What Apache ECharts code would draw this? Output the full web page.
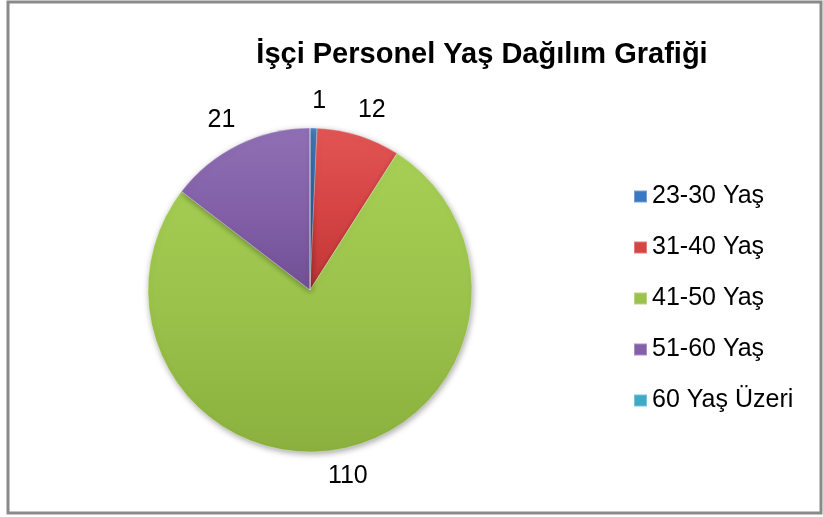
<!DOCTYPE html>
<html>
<head>
<meta charset="utf-8">
<script src="https://cdn.jsdelivr.net/npm/echarts@6/dist/echarts.min.js"></script>
<style>
html,body{margin:0;padding:0;background:#fff;}
#piechart{width:823px;height:517px;}
</style>
</head>
<body>
<div id="piechart"></div>
<script>
// yaş grupları ve kişi sayıları
var categories = ['23-30 Yaş', '31-40 Yaş', '41-50 Yaş', '51-60 Yaş', '60 Yaş Üzeri']
var values = [1, 12, 110, 21, 0]
var colors = ['#3b78c3', '#d64444', '#9bc34b', '#8360a8', '#3eaac7']
var lightColors = ['#4f8ad3', '#e25555', '#a6cf55', '#9070b5', '#55bbd5']
var darkColors = ['#2f66a8', '#bf3636', '#8bb03e', '#714f95', '#2f95b0']

var chart = echarts.init(document.getElementById('piechart'))

var seriesData = categories.map(function (name, i) {
    return {
        name: name,
        value: values[i],
        label: { show: values[i] > 0 },
        itemStyle: {
            color: new echarts.graphic.LinearGradient(0, 0, 0, 1, [
                { offset: 0, color: lightColors[i] },
                { offset: 0.5, color: colors[i] },
                { offset: 1, color: darkColors[i] }
            ])
        }
    }
})

var options = {
    animation: false,
    color: colors,
    title: {
        text: 'İşçi Personel Yaş Dağılım Grafiği',
        left: 477,
        top: 35,
        textAlign: 'center',
        textStyle: {
            fontFamily: 'Liberation Sans',
            fontSize: 29,
            fontWeight: 'bold',
            color: '#000'
        }
    },
    legend: {
        orient: 'vertical',
        left: 628,
        top: 179,
        icon: 'rect',
        itemWidth: 13,
        itemHeight: 12,
        itemGap: 26,
        data: categories.map(function (name, i) {
            return { name: name, itemStyle: { color: colors[i] } }
        }),
        textStyle: {
            fontFamily: 'Liberation Sans',
            fontSize: 25,
            color: '#000'
        }
    },
    graphic: [{
        type: 'rect',
        shape: { x: 8, y: 2, width: 813, height: 511 },
        style: { fill: 'none', stroke: '#8a8a8a', lineWidth: 3 },
        silent: true
    }],
    series: [{
        type: 'pie',
        center: [310, 290],
        radius: [0, 162],
        startAngle: 90,
        clockwise: true,
        avoidLabelOverlap: false,
        data: seriesData,
        itemStyle: {
            borderColor: 'rgba(255,255,255,0.3)',
            borderWidth: 1,
            shadowColor: 'rgba(0,0,0,0.35)',
            shadowBlur: 6,
            shadowOffsetX: 1,
            shadowOffsetY: 2
        },
        label: {
            position: 'outside',
            formatter: '{c}',
            fontFamily: 'Liberation Sans',
            fontSize: 25,
            color: '#000'
        },
        labelLine: { show: false, length: 27, length2: 0 },
        labelLayout: function () {
            return { align: 'center', verticalAlign: 'middle' }
        },
        emphasis: { disabled: true }
    }]
}

chart.setOption(options)
</script>
</body>
</html>
